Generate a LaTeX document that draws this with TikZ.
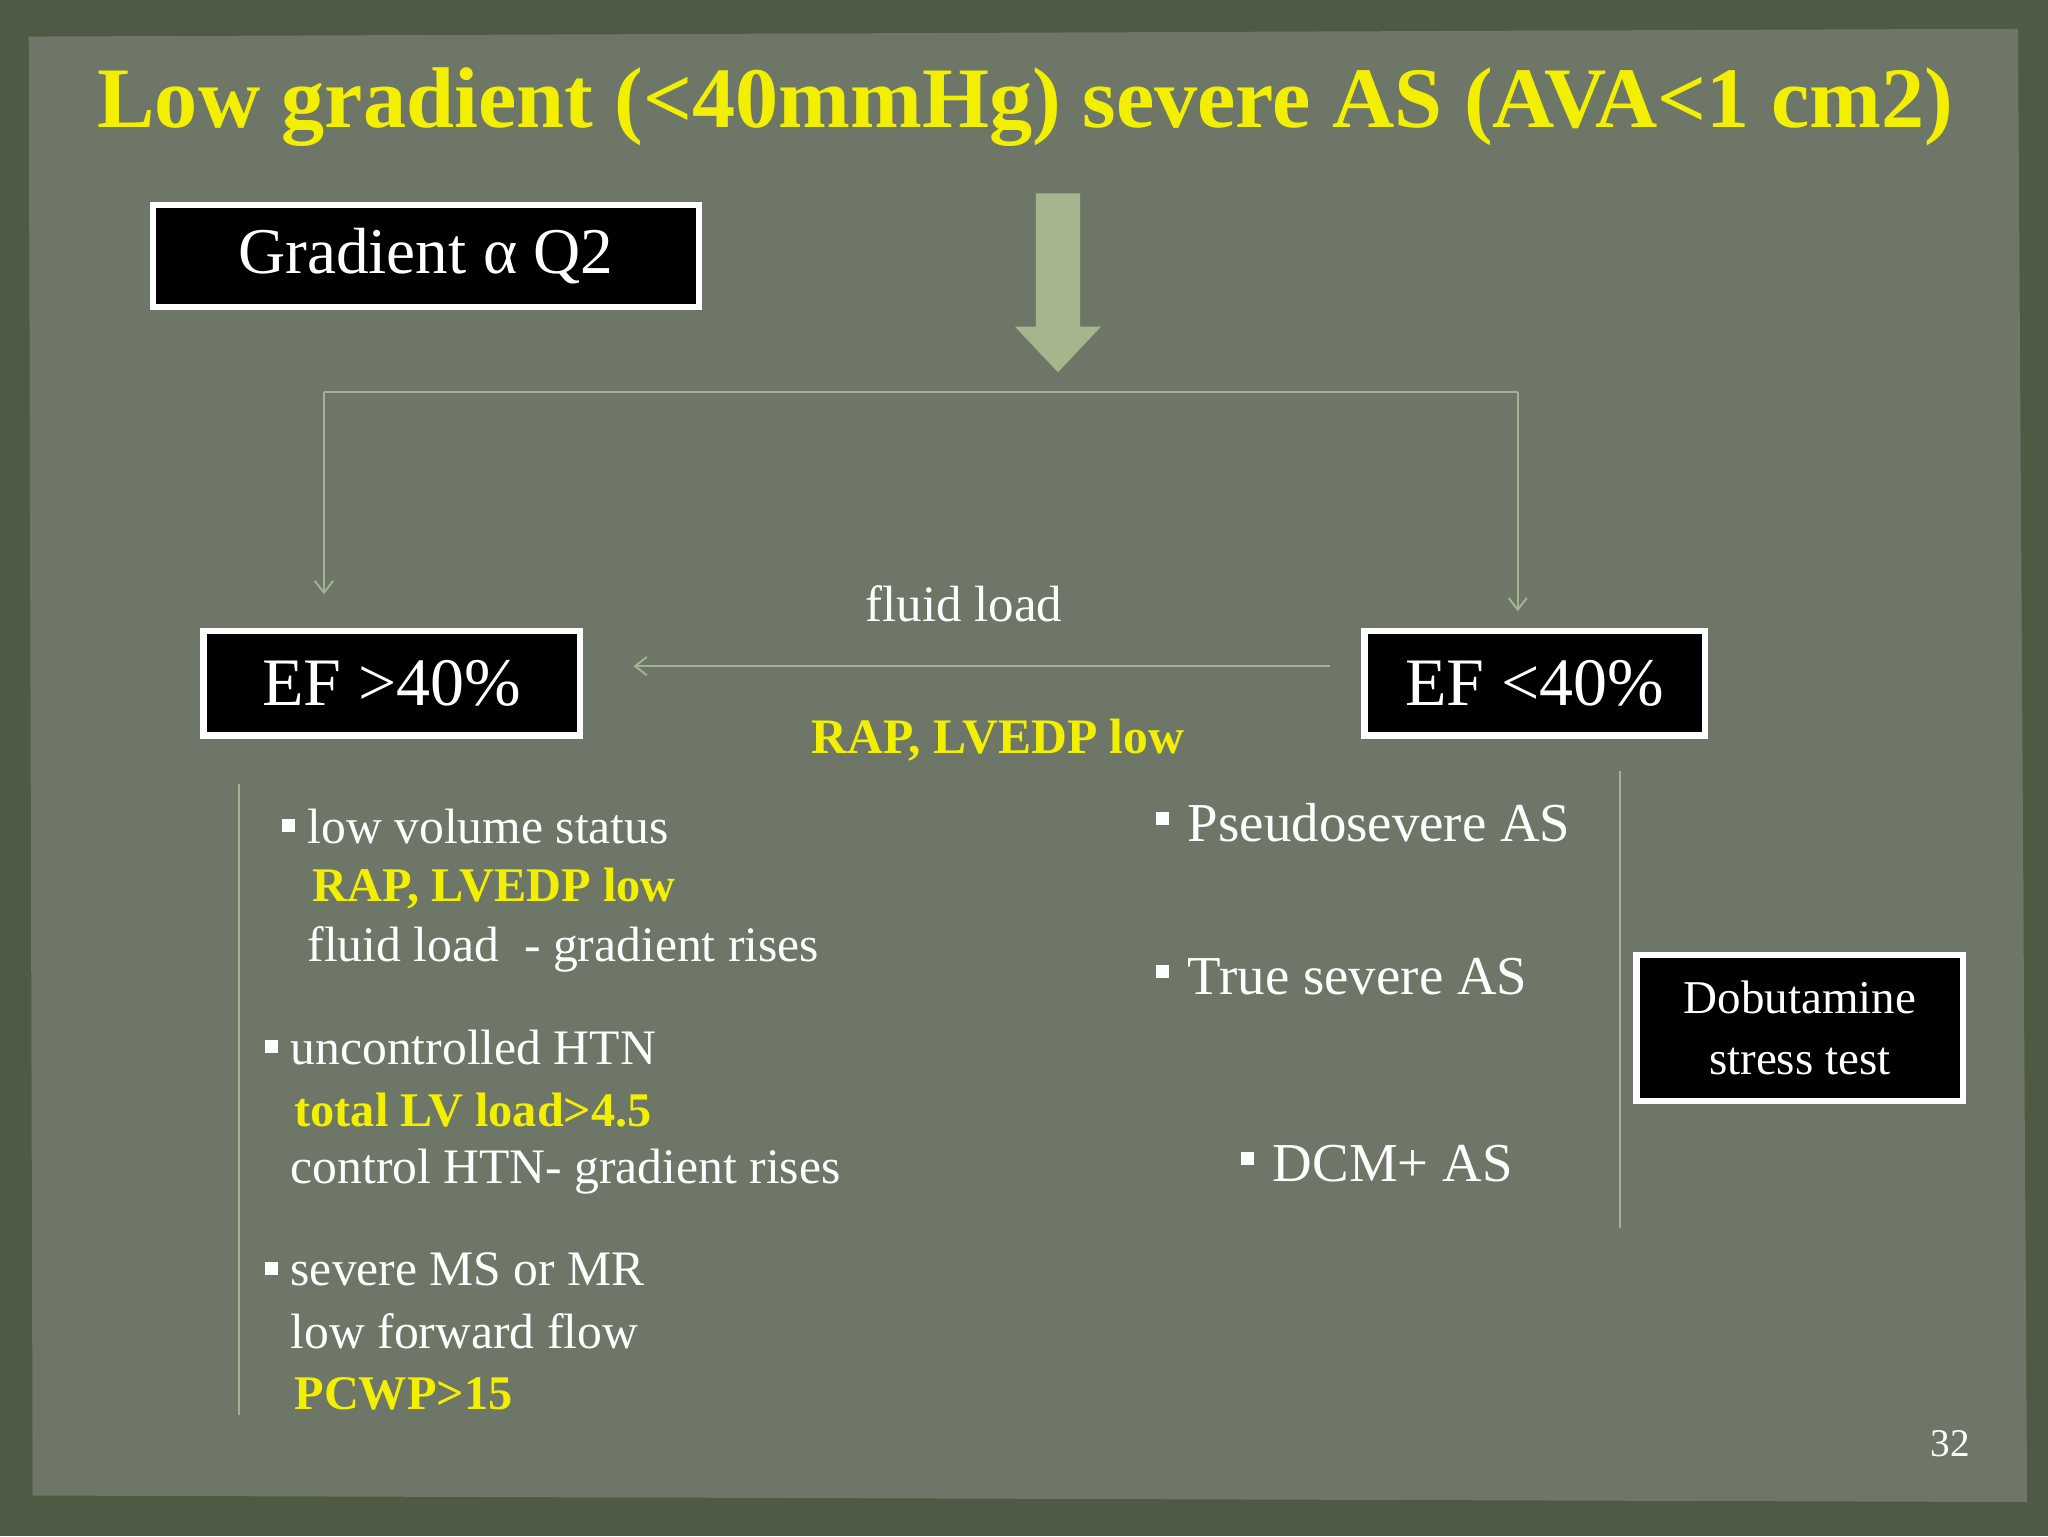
\documentclass[tikz,border=0pt]{standalone}
\usepackage{fontspec}
\setmainfont{Liberation Serif}
\usetikzlibrary{arrows.meta}
\begin{document}
\begin{tikzpicture}[x=1pt,y=-1pt,
  boxed/.style={draw=white,line width=5pt,fill=black,text=white,inner sep=0pt},
  ln/.style={draw=lineg,line width=1.5pt},
  ar/.style={-{Straight Barb[length=9pt,width=14pt]}},
  body/.style={text=white,anchor=west,font=\fontsize{38}{44}\selectfont,align=left},
  yel/.style={text=titley,font=\bfseries\fontsize{37}{40}\selectfont,anchor=west},
  bul/.style={fill=white,minimum size=10pt,inner sep=0pt}]
\definecolor{frameg}{HTML}{4F5A45}
\definecolor{panelg}{HTML}{6E7767}
\definecolor{lineg}{HTML}{A3B392}
\definecolor{titley}{HTML}{F2F000}
\definecolor{arrg}{HTML}{A5B68D}
\fill[frameg] (0,0) rectangle (1568,1176);
\fill[panelg] (22,28) -- (1545,22) -- (1552,1150) -- (25,1145) -- cycle;
\useasboundingbox (0,0) rectangle (1568,1176);
\node (title) at (785,82) {\textcolor{titley}{\bfseries\fontsize{66}{70}\selectfont Low gradient (<40mmHg) severe AS (AVA<1 cm2)}};
\node[boxed,minimum width=418pt,minimum height=78pt] (grad) at (326,196) {\fontsize{50}{54}\selectfont Gradient α Q2};
\fill[arrg] (793,148) -- (827,148) -- (827,250) -- (843,250) -- (810,285) -- (777,250) -- (793,250) -- cycle;
\coordinate (tl) at (248,300); \coordinate (tr) at (1162,300);
\node[boxed,minimum width=288pt,minimum height=80pt] (efl) at (300,523) {\fontsize{52}{56}\selectfont EF >40\%};
\node[boxed,minimum width=261pt,minimum height=80pt] (efr) at (1175,523) {\fontsize{52}{56}\selectfont EF <40\%};
\draw[ln] (tl) -- (tr);
\draw[ln,ar] (tl) -- (248,455);
\draw[ln,ar] (tr) -- (1162,468);
\coordinate (fa) at (1018,510);
\draw[ln,ar] (fa) -- (485,510);
\node[text=white,font=\fontsize{39}{42}\selectfont] (fl) at (738,462) {fluid load};
\node[text=titley,font=\bfseries\fontsize{38}{42}\selectfont] (rap) at (764,567) {RAP, LVEDP low};
\coordinate (l1) at (183,600); \coordinate (l2) at (183,1083);
\draw[ln] (l1) -- (l2);
\coordinate (r1) at (1240,590); \coordinate (r2) at (1240,940);
\draw[ln] (r1) -- (r2);
% left texts
\node[bul] (b1) at (221,632) {};
\node[body] (t1) at (232,633) {low volume status};
\node[yel] (t1b) at (236,680) {RAP, LVEDP low};
\node[body] (t1c) at (232,727) {fluid load \ - gradient rises};
\node[bul] (b2) at (208,801) {};
\node[body] (t2) at (219,802) {uncontrolled HTN};
\node[yel] (t2b) at (222,850) {total LV load>4.5};
\node[body] (t2c) at (219,897) {control HTN- gradient rises};
\node[bul] (b3) at (208,971) {};
\node[body] (t3) at (219,972) {severe MS or MR};
\node[body] (t3b) at (219,1019) {low forward flow};
\node[yel] (t3c) at (222,1067) {PCWP>15};
% right texts
\node[bul] (b4) at (890,627) {};
\node[body,font=\fontsize{42}{46}\selectfont] (t4) at (906,630) {Pseudosevere AS};
\node[bul] (b5) at (890,744) {};
\node[body,font=\fontsize{42}{46}\selectfont] (t5) at (906,748) {True severe AS};
\node[bul] (b6) at (955,887) {};
\node[body,font=\fontsize{42}{46}\selectfont] (t6) at (971,891) {DCM+ AS};
\node[boxed,minimum width=250pt,minimum height=112pt,align=center,font=\fontsize{36}{46}\selectfont] (dob) at (1378,787) {Dobutamine\\ stress test};
\node[text=white,font=\fontsize{30}{32}\selectfont] (pg) at (1493,1105) {32};
\end{tikzpicture}
\end{document}
